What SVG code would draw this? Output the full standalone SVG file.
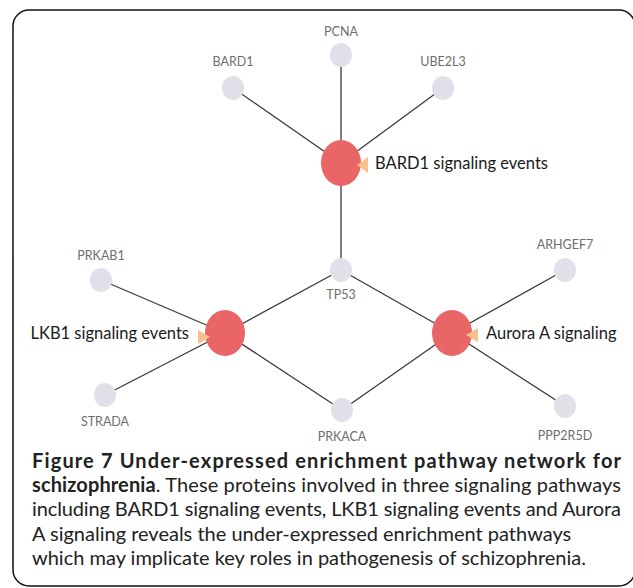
<svg xmlns="http://www.w3.org/2000/svg" width="633" height="588" viewBox="0 0 633 588">
<style>
.edge{stroke:#3a3a3a;stroke-width:1.3;fill:none}
.prot{fill:#e2dfe9}
.path{fill:#ea6566}
.arr{fill:#f8c08c}
.nl{font-family:Lato,"Liberation Sans",sans-serif;font-size:12.5px;fill:#6e6e6e;text-anchor:middle}
.pl{font-family:Lato,"Liberation Sans",sans-serif;font-size:16.5px;fill:#1a1a1a}
.cap{font-family:Lato,"Liberation Sans",sans-serif;font-size:20px;fill:#222}
.capb{font-weight:bold}
</style>
<rect x="13" y="10" width="622" height="576" rx="16" ry="16" fill="#fff" stroke="#111" stroke-width="1.5"/>
<g id="connectors">
<line class="edge" x1="233" y1="88" x2="341" y2="163"/>
<line class="edge" x1="341" y1="55" x2="341" y2="163"/>
<line class="edge" x1="443" y1="88" x2="341" y2="163"/>
<line class="edge" x1="341" y1="163" x2="341" y2="270"/>
<line class="edge" x1="341" y1="270" x2="225" y2="333"/>
<line class="edge" x1="341" y1="270" x2="452" y2="333"/>
<line class="edge" x1="101" y1="280" x2="225" y2="333"/>
<line class="edge" x1="105" y1="395" x2="225" y2="333"/>
<line class="edge" x1="225" y1="333" x2="342" y2="410"/>
<line class="edge" x1="452" y1="333" x2="342" y2="410"/>
<line class="edge" x1="565" y1="270" x2="452" y2="333"/>
<line class="edge" x1="565" y1="406" x2="452" y2="333"/>
</g>
<g id="PCNA"><ellipse class="prot" cx="341" cy="55" rx="11" ry="12"/><text class="nl" x="341" y="36">PCNA</text></g>
<g id="BARD1"><ellipse class="prot" cx="233" cy="88" rx="11" ry="12"/><text class="nl" x="233" y="66">BARD1</text></g>
<g id="UBE2L3"><ellipse class="prot" cx="443" cy="88" rx="11" ry="12"/><text class="nl" x="443" y="66">UBE2L3</text></g>
<g id="BARD1_signaling"><ellipse class="path" cx="341" cy="163" rx="20" ry="23"/><polygon class="arr" points="357,165 368,157 368,173"/><text class="pl" x="375" y="169">BARD1 signaling events</text></g>
<g id="TP53"><ellipse class="prot" cx="341" cy="270" rx="11" ry="12"/><text class="nl" x="341" y="299">TP53</text></g>
<g id="PRKAB1"><ellipse class="prot" cx="101" cy="280" rx="11" ry="12"/><text class="nl" x="101" y="260">PRKAB1</text></g>
<g id="ARHGEF7"><ellipse class="prot" cx="565" cy="270" rx="11" ry="12"/><text class="nl" x="565" y="249">ARHGEF7</text></g>
<g id="LKB1_signaling"><ellipse class="path" cx="225" cy="333" rx="20" ry="23"/><polygon class="arr" points="210,337 198,330 198,344"/><text class="pl" x="189" y="339" text-anchor="end">LKB1 signaling events</text></g>
<g id="Aurora_A_signaling"><ellipse class="path" cx="452" cy="333" rx="20" ry="23"/><polygon class="arr" points="466,335 478,328 478,342"/><text class="pl" x="486" y="339">Aurora A signaling</text></g>
<g id="STRADA"><ellipse class="prot" cx="105" cy="395" rx="11" ry="12"/><text class="nl" x="105" y="426">STRADA</text></g>
<g id="PRKACA"><ellipse class="prot" cx="342" cy="410" rx="11" ry="12"/><text class="nl" x="342" y="441">PRKACA</text></g>
<g id="PPP2R5D"><ellipse class="prot" cx="565" cy="406" rx="11" ry="12"/><text class="nl" x="565" y="440">PPP2R5D</text></g>
<g id="caption">
<text class="cap capb" x="32" y="468" textLength="589" lengthAdjust="spacing">Figure 7 Under-expressed enrichment pathway network for</text>
<text class="cap" x="32" y="492" textLength="589" lengthAdjust="spacing"><tspan class="capb">schizophrenia</tspan>. These proteins involved in three signaling pathways</text>
<text class="cap" x="32" y="516" textLength="589" lengthAdjust="spacing">including BARD1 signaling events, LKB1 signaling events and Aurora</text>
<text class="cap" x="32" y="541">A signaling reveals the under-expressed enrichment pathways</text>
<text class="cap" x="32" y="565">which may implicate key roles in pathogenesis of schizophrenia.</text>
</g>
</svg>
